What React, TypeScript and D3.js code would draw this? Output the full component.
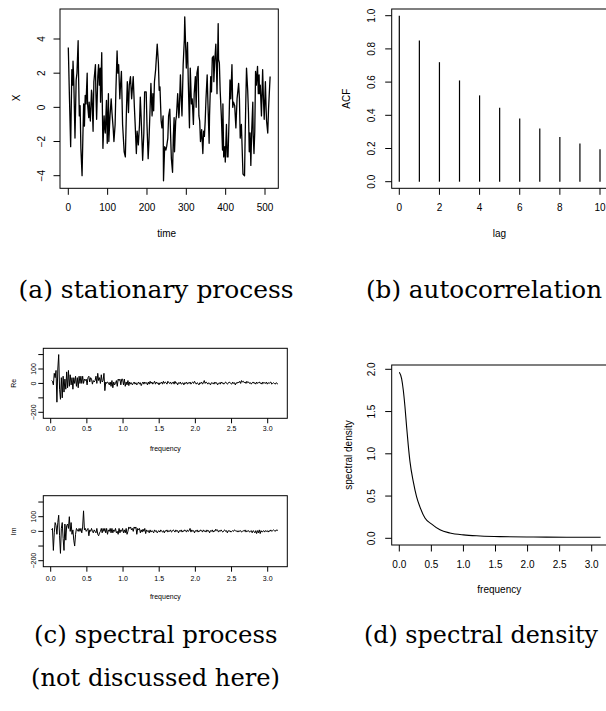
import React from "react";
import * as d3 from "d3";

// ---------- data ----------
const tsTime = [0,3,6,9,11,12,14,17,20,22,25,26,28,30,32,35,37,39,41,43,45,48,49,52,53,56,59,60,63,65,69,70,72,75,77,79,81,82,85,86,88,91,92,94,97,99,102,103,106,109,111,114,116,119,121,124,126,128,131,132,135,138,142,145,148,150,153,155,158,161,165,168,170,173,175,178,181,183,185,189,192,194,198,200,203,205,208,210,213,215,217,219,222,226,229,231,233,236,238,241,242,245,248,250,253,255,258,260,262,265,267,269,270,273,275,278,281,282,285,287,289,292,295,296,298,300,303,305,308,310,313,315,318,320,323,325,327,330,332,334,336,339,342,344,346,348,350,353,355,358,359,362,364,366,369,370,372,375,377,378,381,382,384,386,389,392,393,395,398,399,402,404,406,409,411,413,416,418,420,423,426,429,433,435,437,440,444,448,449,451,453,456,458,460,462,464,466,469,470,472,474,476,478,481,483,485,486,488,491,494,496,498,501,503,504,507,509,513];
const tsValue = [3.5,0.5,-2.3,2.2,1.3,2.7,1.5,-1.8,1.6,2.0,3.9,2.0,-0.5,0.1,-2.4,-4.0,-1.8,0.2,-1.1,0.7,0.2,2.0,0.2,-0.6,0.3,-0.8,1.0,0.8,-1.4,1.5,2.5,1.0,-0.7,1.8,2.5,1.3,2.3,0.3,3.2,1.0,-2.4,-0.5,-1.0,-1.5,0.4,-2.1,0.8,-2.0,-0.5,0.5,-0.3,-1.2,-2.0,-1.0,1.0,3.3,2.0,2.5,0.5,1.0,2.1,-1.0,-2.6,-2.9,0.0,1.5,-0.3,1.3,1.8,0.5,1.8,0.0,-1.0,-2.7,-1.4,-2.2,-1.0,0.6,-0.5,-3.1,-1.5,0.9,0.9,-1.0,-3.0,-2.0,0.0,1.4,-0.5,0.8,-0.2,1.5,2.2,3.7,2.6,1.0,1.2,-0.8,-1.2,-0.5,-4.3,-2.3,-2.5,-2.3,-1.8,-0.5,-0.1,-1.6,-3.0,-3.8,-1.7,-0.6,-2.6,-0.8,-0.5,0.8,-0.6,-0.3,1.9,0.5,-0.5,2.5,4.0,5.3,3.8,2.3,3.8,1.5,-1.2,2.3,0.2,0.5,-1.0,0.8,1.8,0.0,2.0,2.4,-0.5,-0.8,-2.0,-1.3,-2.7,-1.4,-1.7,-0.8,0.5,1.9,0.2,-2.1,-0.5,1.8,0.9,2.9,3.0,1.5,2.6,3.7,2.0,0.8,4.9,2.8,2.6,1.0,-0.5,-2.5,0.2,-2.9,-2.3,-3.2,-1.0,-2.9,-2.9,-0.4,1.6,0.5,2.5,0.0,0.3,0.1,-1.2,0.5,1.4,0.5,-1.8,-1.0,-3.9,-4.0,-2.5,0.1,2.3,1.0,-0.3,-2.6,-1.5,-3.4,-1.5,0.3,-1.6,-2.7,-1.4,2.1,1.3,2.4,0.8,1.9,0.8,1.3,-0.5,2.2,0.5,-0.7,1.5,-0.2,-0.8,-1.5,-0.1,1.8];
const tsXTicks = [0,100,200,300,400,500];
const tsYTicks = [-4,-2,0,2,4];

const acfLag = [0,1,2,3,4,5,6,7,8,9,10];
const acfValue = [1.0,0.85,0.72,0.61,0.52,0.445,0.38,0.32,0.27,0.23,0.195];
const acfXTicks = [0,2,4,6,8,10];
const acfYTicks = [0,0.2,0.4,0.6,0.8,1.0];

const reValue = [20,15,-10,70,40,90,-130,100,200,-40,
-110,40,-100,50,-60,30,-40,80,-30,90,
-20,60,-10,40,-40,40,0,50,-20,40,
-30,50,0,50,0,50,0,30,20,30,
-10,40,50,10,40,30,-5,20,10,20,
50,0,70,20,40,0,60,10,20,70,
-50,10,0,10,5,-10,10,-20,20,-30,
10,-10,0,20,-20,30,20,30,-10,30,
30,-10,30,-20,10,
-10,20,-15,10,-5,5,-10,0,10,-5,
5,-10,0,10,-5,5,-15,0,10,-5,
10,0,5,-10,10,-5,15,0,10,-5,
5,15,-5,10,0,5,-10,5,0,10,
-5,15,0,10,5,-5,15,5,0,10,
-5,5,10,-5,15,0,5,-10,5,0,
10,-5,0,5,-10,5,0,10,-5,5,
0,10,-5,5,10,0,15,5,-5,5,
0,-10,5,0,10,-5,5,20,0,10,
5,-5,5,0,-10,5,0,5,-5,10,
0,5,-10,0,5,-5,10,0,5,-5,
0,10,5,-5,0,10,5,0,-5,10,
0,5,-10,5,0,10,5,15,0,20,
10,15,5,10,0,15,5,10,0,5,
-5,5,10,0,5,-5,10,0,5,10,
0,5,-5,10,0,5,0,10,-5,5,
0,5,10,-5,0,5,0,-5,5,0,-5];
const imValue = [10,20,-130,-10,60,40,-20,60,110,-30,
-150,20,60,-50,-130,50,-60,40,50,20,
100,0,60,-20,10,-60,-100,-20,20,10,
0,20,0,20,-10,30,140,10,20,0,
10,20,-30,10,0,20,0,-10,10,0,
-10,20,-20,-30,-10,0,20,-10,20,0,
20,-10,20,-20,10,0,20,-10,20,-10,
10,0,20,-10,0,-20,20,-10,10,0,
20,-10,10,-10,20,-20,0,30,20,30,
10,20,0,30,20,30,-20,20,10,20,
-10,
10,-5,15,0,20,-15,10,0,5,-10,
10,-5,5,0,-10,10,0,5,-10,0,
5,-5,10,0,-5,5,-10,5,0,10,
-5,5,0,10,-5,0,10,5,-5,10,
0,5,-10,5,0,10,-5,5,0,10,
5,-5,10,0,5,20,-5,10,0,5,
-10,5,0,10,-5,5,0,10,5,-5,
10,0,5,-5,10,0,5,-10,5,0,
10,-5,5,0,15,5,10,-5,5,0,
10,0,-5,5,10,0,5,-10,5,0,
5,-5,0,5,0,10,5,0,5,-5,
5,0,5,-5,0,5,0,10,-5,5,
0,5,-5,0,5,-10,5,0,-10,5,
-15,5,-10,10,-15,5,-5,0,5,-5,
5,0,5,-5,5,0,10,0,5,10,
5,0,10,5,10];
const specXTicks = [0,0.5,1.0,1.5,2.0,2.5,3.0];
const specYTicks = [-200,-100,0,100,200];
const specYLabels = [100,0,-200];

const densFreq = [0,0.036,0.062,0.088,0.114,0.14,0.166,0.218,0.27,0.32,0.4,0.5,0.634,0.79,1.0,1.26,1.57,2.09,2.61,3.14];
const densValue = [1.965,1.89,1.755,1.56,1.32,1.1,0.91,0.67,0.49,0.375,0.24,0.17,0.1,0.063,0.04,0.028,0.02,0.015,0.013,0.012];
const densYTicks = [0,0.5,1.0,1.5,2.0];

const captions = [
  { text: "(a) stationary process", x: 18.6, y: 298, w: 275 },
  { text: "(b) autocorrelation", x: 366, y: 298, w: 236 },
  { text: "(c) spectral process", x: 34, y: 643, w: 243.5 },
  { text: "(not discussed here)", x: 31, y: 686, w: 249 },
  { text: "(d) spectral density", x: 364, y: 643, w: 234 },
];

const SANS = "Liberation Sans";
const SERIF = "DejaVu Serif";

type Lin = d3.ScaleLinear<number, number>;

function fmt1(v: number) {
  return v.toFixed(1);
}

function Frame(props: {
  box: [number, number, number, number];
  x: Lin; y: Lin;
  xTicks: number[]; yTicks: number[];
  yLabels?: number[];
  xFmt: (v: number) => string; yFmt: (v: number) => string;
  tick: number; font: number;
  xLabY: number; yLabX: number;
  xTitle: string; xTitleX: number; xTitleY: number;
  yTitle: string; yTitleX: number; yTitleY: number;
}) {
  const [l, t, r, b] = props.box;
  const { x, y, tick, font } = props;
  const yl = props.yLabels ?? props.yTicks;
  return (
    <g fill="none" stroke="#000" strokeWidth={1}>
      <rect x={l} y={t} width={r - l} height={b - t} />
      {props.xTicks.map((v) => (
        <line key={"xt" + v} x1={x(v)} x2={x(v)} y1={b} y2={b + tick} />
      ))}
      {props.yTicks.map((v) => (
        <line key={"yt" + v} x1={l} x2={l - tick} y1={y(v)} y2={y(v)} />
      ))}
      <g stroke="none" fill="#000" fontFamily={SANS} fontSize={font}>
        {props.xTicks.map((v) => (
          <text key={"xl" + v} x={x(v)} y={props.xLabY} dy="0.35em" textAnchor="middle">
            {props.xFmt(v).replace("-", "\u2212")}
          </text>
        ))}
        {yl.map((v) => (
          <text key={"yl" + v} transform={`translate(${props.yLabX},${y(v)}) rotate(-90)`} dy="0.35em" textAnchor="middle">
            {props.yFmt(v).replace("-", "\u2212")}
          </text>
        ))}
        <text x={props.xTitleX} y={props.xTitleY} dy="0.35em" textAnchor="middle">{props.xTitle}</text>
        <text transform={`translate(${props.yTitleX},${props.yTitleY}) rotate(-90)`} dy="0.35em" textAnchor="middle">{props.yTitle}</text>
      </g>
    </g>
  );
}

export default function App() {
  // panel a
  const ax = d3.scaleLinear().domain([0, 500]).range([68.3, 265]);
  const ay = d3.scaleLinear().domain([-4, 4]).range([175.7, 39]);
  const aLine = d3.line<number>().x((_, i) => ax(tsTime[i])).y((d) => ay(d));

  // panel b
  const bx = d3.scaleLinear().domain([0, 10]).range([399.3, 600]);
  const by = d3.scaleLinear().domain([0, 1]).range([181.7, 15.7]);

  // panel c
  const cx = d3.scaleLinear().domain([0, 3]).range([50.7, 267.7]);
  const reY = d3.scaleLinear().domain([-200, 100]).range([412.3, 369]);
  const imY = d3.scaleLinear().domain([-200, 100]).range([560.7, 516.7]);
  const freqOf = (i: number) => ((i + 1) * 2 * Math.PI) / 512;
  const reLine = d3.line<number>().x((_, i) => cx(freqOf(i))).y((d) => reY(d));
  const imLine = d3.line<number>().x((_, i) => cx(freqOf(i))).y((d) => imY(d));

  // panel d
  const dx = d3.scaleLinear().domain([0, 3]).range([399.3, 591.7]);
  const dy = d3.scaleLinear().domain([0, 2]).range([538.3, 369.3]);
  const dLine = d3.line<number>().x((_, i) => dx(densFreq[i])).y((d) => dy(d)).curve(d3.curveMonotoneX);

  return (
    <svg width={606} height={711} style={{ position: "absolute", left: 0, top: 0, background: "#fff" }}>
      <rect x={0} y={0} width={606} height={711} fill="#fff" />

      {/* (a) */}
      <Frame box={[60, 9, 278.3, 188.3]} x={ax} y={ay} xTicks={tsXTicks} yTicks={tsYTicks}
        xFmt={(v) => String(v)} yFmt={(v) => String(v)} tick={6.5} font={10}
        xLabY={207} yLabX={41.7} xTitle="time" xTitleX={166.7} xTitleY={233}
        yTitle="X" yTitleX={16} yTitleY={98} />
      <path d={aLine(tsValue) ?? ""} fill="none" stroke="#000" strokeWidth={1.3} strokeLinejoin="round" />

      {/* (b) */}
      <Frame box={[391.7, 9, 640, 188.3]} x={bx} y={by} xTicks={acfXTicks} yTicks={acfYTicks}
        xFmt={(v) => String(v)} yFmt={fmt1} tick={6.5} font={10}
        xLabY={207} yLabX={371.7} xTitle="lag" xTitleX={499.5} xTitleY={233}
        yTitle="ACF" yTitleX={346.7} yTitleY={98.7} />
      {acfLag.map((lag, i) => (
        <line key={"acf" + lag} x1={bx(lag)} x2={bx(lag)} y1={by(0)} y2={by(acfValue[i])} stroke="#000" strokeWidth={1.2} />
      ))}

      {/* (c) Re */}
      <Frame box={[43.3, 348.3, 287.3, 418.3]} x={cx} y={reY} xTicks={specXTicks} yTicks={specYTicks} yLabels={specYLabels}
        xFmt={fmt1} yFmt={(v) => String(v)} tick={5} font={7}
        xLabY={429} yLabX={33.3} xTitle="frequency" xTitleX={165.3} xTitleY={448.3}
        yTitle="Re" yTitleX={14} yTitleY={383.3} />
      <path d={reLine(reValue) ?? ""} fill="none" stroke="#000" strokeWidth={1} strokeLinejoin="round" />

      {/* (c) Im */}
      <Frame box={[43.3, 495.7, 287.3, 566.7]} x={cx} y={imY} xTicks={specXTicks} yTicks={specYTicks} yLabels={specYLabels}
        xFmt={fmt1} yFmt={(v) => String(v)} tick={5} font={7}
        xLabY={578.3} yLabX={33.3} xTitle="frequency" xTitleX={165.3} xTitleY={596.7}
        yTitle="Im" yTitleX={14} yTitleY={531.3} />
      <path d={imLine(imValue) ?? ""} fill="none" stroke="#000" strokeWidth={1} strokeLinejoin="round" />

      {/* (d) */}
      <Frame box={[391.7, 365, 640, 545]} x={dx} y={dy} xTicks={specXTicks} yTicks={densYTicks}
        xFmt={fmt1} yFmt={fmt1} tick={6.5} font={10}
        xLabY={564.3} yLabX={371.7} xTitle="frequency" xTitleX={499.3} xTitleY={589.3}
        yTitle="spectral density" yTitleX={348.3} yTitleY={455} />
      <path d={dLine(densValue) ?? ""} fill="none" stroke="#000" strokeWidth={1.1} />

      {/* captions */}
      <g fontFamily={SERIF} fontSize={25} fill="#000">
        {captions.map((c) => (
          <text key={c.text} x={c.x} y={c.y} textLength={c.w} lengthAdjust="spacingAndGlyphs">{c.text}</text>
        ))}
      </g>
    </svg>
  );
}
